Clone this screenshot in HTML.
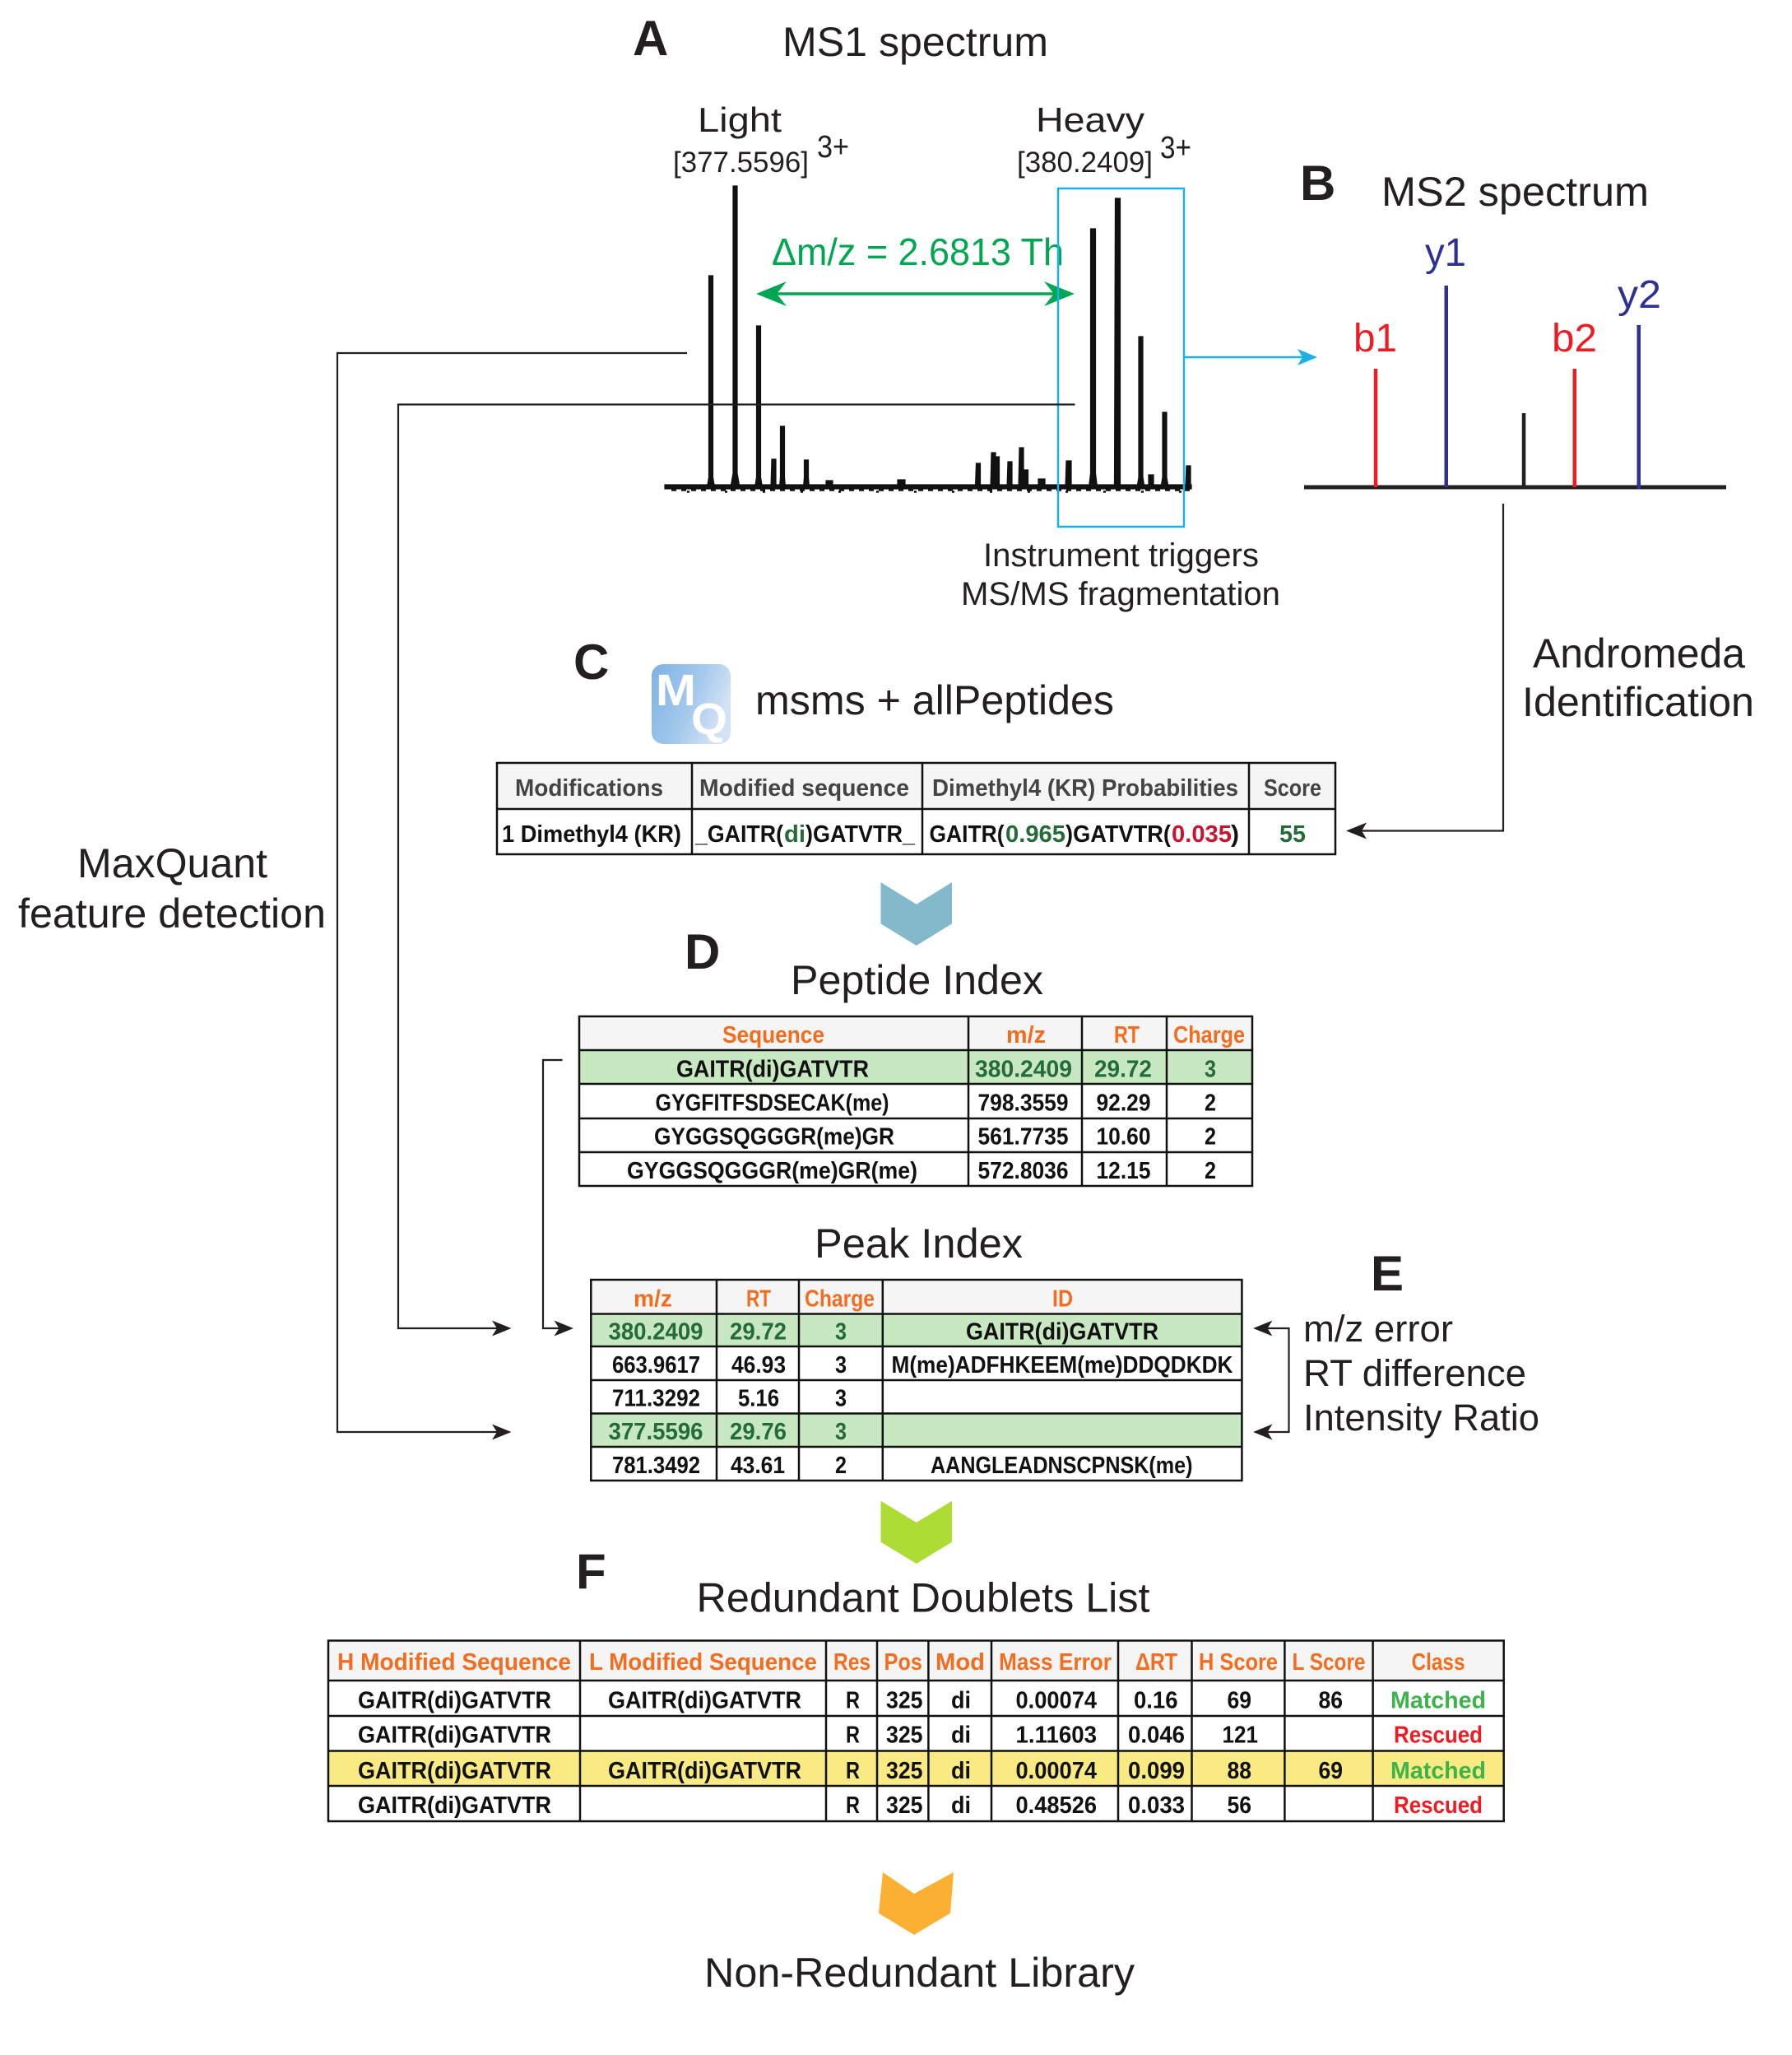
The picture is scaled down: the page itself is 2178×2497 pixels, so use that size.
<!DOCTYPE html>
<html><head><meta charset="utf-8"><style>
html,body{margin:0;padding:0;background:#fff}
svg{display:block}
text{font-family:"Liberation Sans",sans-serif;white-space:pre}
.a{font-size:50px;fill:#231f20}
.s{font-size:40px;fill:#231f20}
.n{font-size:35px;fill:#231f20}
.l{font-size:60px;font-weight:bold;fill:#231f20}
.t{font-size:29px;font-weight:bold;fill:#111}
.h{font-size:29px;font-weight:bold;fill:#444}
.o{font-size:29px;font-weight:bold;fill:#f26d1f}
.g{font-size:29px;font-weight:bold;fill:#256b3a}
.m{font-size:29px;font-weight:bold;fill:#3cb44a}
.r{font-size:29px;font-weight:bold;fill:#ed1c24}
.d{font-size:29px;font-weight:bold;fill:#c8142e}
</style></head><body>
<svg xmlns="http://www.w3.org/2000/svg" width="2178" height="2497" viewBox="0 0 2178 2497">
<defs><linearGradient id="mq" x1="0" y1="0" x2="1" y2="0.4"><stop offset="0" stop-color="#7db2e4"/><stop offset="0.6" stop-color="#a5c9ec"/><stop offset="1" stop-color="#d3e3f4"/></linearGradient></defs>
<rect width="2178" height="2497" fill="#fff"/>

<!-- Panel A -->
<text class="l" x="769" y="67">A</text>
<text class="a" x="951" y="68" textLength="323" lengthAdjust="spacingAndGlyphs">MS1 spectrum</text>
<text class="a" style="font-size:42px" x="848" y="160" textLength="102" lengthAdjust="spacingAndGlyphs">Light</text>
<text class="a" style="font-size:42px" x="1259" y="160" textLength="132" lengthAdjust="spacingAndGlyphs">Heavy</text>
<text class="n" x="818" y="209" textLength="165" lengthAdjust="spacingAndGlyphs">[377.5596]</text>
<text class="n" style="font-size:38px" x="993" y="191" textLength="39" lengthAdjust="spacingAndGlyphs">3+</text>
<text class="n" x="1236" y="209" textLength="165" lengthAdjust="spacingAndGlyphs">[380.2409]</text>
<text class="n" style="font-size:38px" x="1410" y="192" textLength="38" lengthAdjust="spacingAndGlyphs">3+</text>
<text class="a" style="font-size:46px;fill:#00a651" x="938" y="322" textLength="355" lengthAdjust="spacingAndGlyphs">Δm/z = 2.6813 Th</text>

<!-- spectrum A -->
<g fill="#111" stroke="#111" stroke-width="1.200">
<rect x="808" y="589" width="640" height="5"/>
<path d="M861.5 335h5V580l2 12h-9l2-12z"/>
<path d="M891 226h5V575l3 17h-11l3-17z"/>
<path d="M919.5 396h5V580l2 12h-9l2-12z"/>
<path d="M938 558h5V592h-6z"/>
<path d="M948.500 518h5V580l1 12h-7l1-12z"/>
<path d="M977.500 559h5V580l1 12h-7l1-12z"/>
<path d="M1004 584h8v8h-8z"/>
<path d="M1091 583h9v9h-9z"/>
<path d="M1186.500 563h5V592h-6z"/>
<path d="M1205 550h5V592h-6z"/>
<path d="M1209.500 555h5V592h-6z"/>
<path d="M1225 561h5V592h-6z"/>
<path d="M1239 544h5V592h-6z"/>
<path d="M1244.500 571h5V592h-6z"/>
<path d="M1262 582h8v10h-8z"/>
<path d="M1296 560h6V592h-7z"/>
<path d="M1325.500 278h6V575l2 17h-10l2-17z"/>
<path d="M1355.500 241h6V592h-7z"/>
<path d="M1384 409h5V580l2 12h-9l2-12z"/>
<path d="M1396 577h6v15h-6z"/>
<path d="M1413 501h5V580l2 12h-9l2-12z"/>
<path d="M1442 566h5v26h-6z"/>
</g>
<line x1="816" y1="595.500" x2="1448" y2="595.500" stroke="#111" stroke-width="2.500" stroke-dasharray="6 6"/>
<line x1="835" y1="597.500" x2="1448" y2="597.500" stroke="#111" stroke-width="2.500" stroke-dasharray="3 43"/>

<!-- green arrow -->
<line x1="940" y1="357" x2="1285" y2="357" stroke="#00a651" stroke-width="3.500"/>
<path d="M919 357L956 342 944 357 956 372zM1306 357L1269 342 1281 357 1269 372z" fill="#00a651"/>
<!-- blue box -->
<rect x="1286" y="229" width="153" height="411" fill="none" stroke="#1cb0ea" stroke-width="2.500"/>
<line x1="1439" y1="434" x2="1590" y2="434" stroke="#1cb0ea" stroke-width="2.500"/>
<path d="M1601 434L1577 424 1583 434 1577 444z" fill="#1cb0ea"/>
<text class="s" x="1195" y="688" textLength="335" lengthAdjust="spacingAndGlyphs">Instrument triggers</text>
<text class="s" x="1168" y="735" textLength="388" lengthAdjust="spacingAndGlyphs">MS/MS fragmentation</text>

<!-- Panel B -->
<text class="l" x="1580" y="243">B</text>
<text class="a" x="1679" y="250" textLength="325" lengthAdjust="spacingAndGlyphs">MS2 spectrum</text>
<line x1="1585" y1="592" x2="2098" y2="592" stroke="#231f20" stroke-width="5"/>
<rect x="1669.800" y="448" width="4.500" height="144" fill="#ed1c24"/>
<rect x="1755.500" y="347" width="4.500" height="245" fill="#2e3192"/>
<rect x="1849.800" y="502" width="4.500" height="90" fill="#231f20"/>
<rect x="1911.500" y="448" width="4.500" height="144" fill="#ed1c24"/>
<rect x="1989.500" y="395" width="4.500" height="199" fill="#2e3192"/>
<text class="a" style="font-size:48px;fill:#ed1c24" x="1645" y="427" textLength="53" lengthAdjust="spacingAndGlyphs">b1</text>
<text class="a" style="font-size:48px;fill:#ed1c24" x="1886" y="427" textLength="55" lengthAdjust="spacingAndGlyphs">b2</text>
<text class="a" style="font-size:48px;fill:#2e3192" x="1732" y="323" textLength="50" lengthAdjust="spacingAndGlyphs">y1</text>
<text class="a" style="font-size:48px;fill:#2e3192" x="1966" y="374" textLength="53" lengthAdjust="spacingAndGlyphs">y2</text>

<!-- connectors -->
<g fill="none" stroke="#231f20" stroke-width="2.200">
<path d="M835 429H410V1740H610"/>
<path d="M1306.500 491.500H484V1614H610"/>
<path d="M683.500 1288H660V1614H685"/>
<path d="M1827 612V1009.500H1650"/>
<path d="M1535 1614H1566.500V1740H1535"/>
</g>
<g fill="#231f20">
<path d="M621.500 1740L598 1730.500 604 1740 598 1749.500z"/>
<path d="M621.500 1614L598 1604.500 604 1614 598 1623.500z"/>
<path d="M697 1614L673.500 1604.500 679.500 1614 673.500 1623.500z"/>
<path d="M1636 1009.500L1661 999.500 1655 1009.500 1661 1019.500z"/>
<path d="M1523 1614L1546.500 1604.500 1540.500 1614 1546.500 1623.500z"/>
<path d="M1523 1740L1546.500 1730.500 1540.500 1740 1546.500 1749.500z"/>
</g>

<text class="a" x="94" y="1066" textLength="231" lengthAdjust="spacingAndGlyphs">MaxQuant</text>
<text class="a" x="22" y="1127" textLength="374" lengthAdjust="spacingAndGlyphs">feature detection</text>
<text class="a" x="1863" y="811" textLength="258" lengthAdjust="spacingAndGlyphs">Andromeda</text>
<text class="a" x="1850" y="870" textLength="282" lengthAdjust="spacingAndGlyphs">Identification</text>

<!-- Panel C -->
<text class="l" x="697" y="825">C</text>
<rect x="792" y="807" width="96" height="97" rx="14" fill="url(#mq)"/>
<text x="797" y="857" style="font-size:54px;font-weight:bold;fill:#fff" textLength="49" lengthAdjust="spacingAndGlyphs">M</text>
<text x="840" y="892" style="font-size:54px;font-weight:bold;fill:#fff" textLength="44" lengthAdjust="spacingAndGlyphs">Q</text>
<text class="a" x="918" y="868" textLength="436" lengthAdjust="spacingAndGlyphs">msms + allPeptides</text>

<rect x="604" y="927" width="1019" height="56" fill="#f5f5f5"/>
<path d="M603 927H1624M603 983H1624M603 1038H1624M604 926V1039M841 926V1039M1121 926V1039M1518 926V1039M1623 926V1039" fill="none" stroke="#111" stroke-width="2.500"/>
<text class="h" x="626" y="967" textLength="180" lengthAdjust="spacingAndGlyphs">Modifications</text>
<text class="h" x="850" y="967" textLength="255" lengthAdjust="spacingAndGlyphs">Modified sequence</text>
<text class="h" x="1133" y="967" textLength="372" lengthAdjust="spacingAndGlyphs">Dimethyl4 (KR) Probabilities</text>
<text class="h" x="1536" y="967" textLength="70" lengthAdjust="spacingAndGlyphs">Score</text>
<text class="t" x="610" y="1023" textLength="218" lengthAdjust="spacingAndGlyphs">1 Dimethyl4 (KR)</text>
<text class="t" x="845" y="1023" textLength="107" lengthAdjust="spacingAndGlyphs">_GAITR(</text>
<text class="g" x="953" y="1023" textLength="26" lengthAdjust="spacingAndGlyphs">di</text>
<text class="t" x="979" y="1023" textLength="133" lengthAdjust="spacingAndGlyphs">)GATVTR_</text>
<text class="t" x="1129.500" y="1023" textLength="91" lengthAdjust="spacingAndGlyphs">GAITR(</text>
<text class="g" x="1222" y="1023" textLength="73" lengthAdjust="spacingAndGlyphs">0.965</text>
<text class="t" x="1295" y="1023" textLength="128" lengthAdjust="spacingAndGlyphs">)GATVTR(</text>
<text class="d" x="1424" y="1023" textLength="73" lengthAdjust="spacingAndGlyphs">0.035</text>
<text class="t" x="1496" y="1023" textLength="10" lengthAdjust="spacingAndGlyphs">)</text>
<text class="g" x="1555" y="1023" textLength="32" lengthAdjust="spacingAndGlyphs">55</text>

<path d="M1070.500 1072L1113.800 1098.800 1157 1072V1122.400L1113.800 1149 1070.500 1122.400z" fill="#84b8cb"/>

<!-- Panel D -->
<text class="l" x="832" y="1177">D</text>
<text class="a" x="961" y="1208" textLength="307" lengthAdjust="spacingAndGlyphs">Peptide Index</text>
<rect x="704" y="1235" width="818" height="41" fill="#f5f5f5"/>
<rect x="704" y="1276" width="818" height="41" fill="#c8e8c2"/>
<path d="M703 1235H1523M703 1276H1523M703 1317H1523M703 1359H1523M703 1400H1523M703 1441H1523M704 1234V1442M1177 1234V1442M1315 1234V1442M1418 1234V1442M1522 1234V1442" fill="none" stroke="#111" stroke-width="2.500"/>
<text class="o" x="878" y="1267" textLength="124" lengthAdjust="spacingAndGlyphs">Sequence</text>
<text class="o" x="1223" y="1267" textLength="48" lengthAdjust="spacingAndGlyphs">m/z</text>
<text class="o" x="1354" y="1267" textLength="31" lengthAdjust="spacingAndGlyphs">RT</text>
<text class="o" x="1426" y="1267" textLength="87" lengthAdjust="spacingAndGlyphs">Charge</text>
<text class="t" x="822" y="1308.500" textLength="234" lengthAdjust="spacingAndGlyphs">GAITR(di)GATVTR</text>
<text class="g" x="1185" y="1308.500" textLength="118" lengthAdjust="spacingAndGlyphs">380.2409</text>
<text class="g" x="1330" y="1308.500" textLength="70" lengthAdjust="spacingAndGlyphs">29.72</text>
<text class="g" x="1464" y="1308.500" textLength="14" lengthAdjust="spacingAndGlyphs">3</text>
<text class="t" x="796.500" y="1349.500" textLength="284" lengthAdjust="spacingAndGlyphs">GYGFITFSDSECAK(me)</text>
<text class="t" x="1188.500" y="1349.500" textLength="110" lengthAdjust="spacingAndGlyphs">798.3559</text>
<text class="t" x="1332.500" y="1349.500" textLength="66" lengthAdjust="spacingAndGlyphs">92.29</text>
<text class="t" x="1464" y="1349.500" textLength="14" lengthAdjust="spacingAndGlyphs">2</text>
<text class="t" x="795" y="1390.500" textLength="292" lengthAdjust="spacingAndGlyphs">GYGGSQGGGR(me)GR</text>
<text class="t" x="1188.500" y="1390.500" textLength="110" lengthAdjust="spacingAndGlyphs">561.7735</text>
<text class="t" x="1332.500" y="1390.500" textLength="66" lengthAdjust="spacingAndGlyphs">10.60</text>
<text class="t" x="1464" y="1390.500" textLength="14" lengthAdjust="spacingAndGlyphs">2</text>
<text class="t" x="762" y="1432" textLength="353" lengthAdjust="spacingAndGlyphs">GYGGSQGGGR(me)GR(me)</text>
<text class="t" x="1188.500" y="1432" textLength="110" lengthAdjust="spacingAndGlyphs">572.8036</text>
<text class="t" x="1332.500" y="1432" textLength="66" lengthAdjust="spacingAndGlyphs">12.15</text>
<text class="t" x="1464" y="1432" textLength="14" lengthAdjust="spacingAndGlyphs">2</text>

<!-- Peak Index -->
<text class="a" x="990" y="1528" textLength="253" lengthAdjust="spacingAndGlyphs">Peak Index</text>
<rect x="718" y="1555" width="791" height="41.500" fill="#f5f5f5"/>
<rect x="718" y="1596.500" width="791" height="39.500" fill="#c8e8c2"/>
<rect x="718" y="1717.500" width="791" height="40.500" fill="#c8e8c2"/>
<path d="M717 1555H1510.500M717 1596.500H1510.500M717 1636H1510.500M717 1677H1510.500M717 1717.500H1510.500M717 1758H1510.500M717 1799H1510.500M718.300 1554V1800M871 1554V1800M971 1554V1800M1072.800 1554V1800M1509.400 1554V1800" fill="none" stroke="#111" stroke-width="2.500"/>
<text class="o" x="770" y="1587.500" textLength="47" lengthAdjust="spacingAndGlyphs">m/z</text>
<text class="o" x="907" y="1587.500" textLength="30" lengthAdjust="spacingAndGlyphs">RT</text>
<text class="o" x="978" y="1587.500" textLength="85" lengthAdjust="spacingAndGlyphs">Charge</text>
<text class="o" x="1279" y="1587.500" textLength="25" lengthAdjust="spacingAndGlyphs">ID</text>
<text class="g" x="739.500" y="1627.500" textLength="115" lengthAdjust="spacingAndGlyphs">380.2409</text>
<text class="g" x="887" y="1627.500" textLength="69" lengthAdjust="spacingAndGlyphs">29.72</text>
<text class="g" x="1015" y="1627.500" textLength="14" lengthAdjust="spacingAndGlyphs">3</text>
<text class="t" x="1174" y="1627.500" textLength="234" lengthAdjust="spacingAndGlyphs">GAITR(di)GATVTR</text>
<text class="t" x="744" y="1668" textLength="107" lengthAdjust="spacingAndGlyphs">663.9617</text>
<text class="t" x="889" y="1668" textLength="66" lengthAdjust="spacingAndGlyphs">46.93</text>
<text class="t" x="1015" y="1668" textLength="14" lengthAdjust="spacingAndGlyphs">3</text>
<text class="t" x="1083.500" y="1668" textLength="415" lengthAdjust="spacingAndGlyphs">M(me)ADFHKEEM(me)DDQDKDK</text>
<text class="t" x="744" y="1708.500" textLength="107" lengthAdjust="spacingAndGlyphs">711.3292</text>
<text class="t" x="897" y="1708.500" textLength="50" lengthAdjust="spacingAndGlyphs">5.16</text>
<text class="t" x="1015" y="1708.500" textLength="14" lengthAdjust="spacingAndGlyphs">3</text>
<text class="g" x="739.500" y="1749" textLength="115" lengthAdjust="spacingAndGlyphs">377.5596</text>
<text class="g" x="887" y="1749" textLength="69" lengthAdjust="spacingAndGlyphs">29.76</text>
<text class="g" x="1015" y="1749" textLength="14" lengthAdjust="spacingAndGlyphs">3</text>
<text class="t" x="744" y="1790" textLength="107" lengthAdjust="spacingAndGlyphs">781.3492</text>
<text class="t" x="888" y="1790" textLength="66" lengthAdjust="spacingAndGlyphs">43.61</text>
<text class="t" x="1015" y="1790" textLength="14" lengthAdjust="spacingAndGlyphs">2</text>
<text class="t" x="1131" y="1790" textLength="318.500" lengthAdjust="spacingAndGlyphs">AANGLEADNSCPNSK(me)</text>

<!-- Panel E -->
<text class="l" x="1666" y="1568">E</text>
<text class="a" style="font-size:45px" x="1584" y="1630" textLength="182" lengthAdjust="spacingAndGlyphs">m/z error</text>
<text class="a" style="font-size:45px" x="1584" y="1684" textLength="271" lengthAdjust="spacingAndGlyphs">RT difference</text>
<text class="a" style="font-size:45px" x="1584" y="1738" textLength="287" lengthAdjust="spacingAndGlyphs">Intensity Ratio</text>

<path d="M1070.500 1823.700L1113.800 1850 1157 1823.700V1873.800L1113.800 1900 1070.500 1873.800z" fill="#addc35"/>

<!-- Panel F -->
<text class="l" x="700" y="1930">F</text>
<text class="a" x="846.500" y="1958.500" textLength="551" lengthAdjust="spacingAndGlyphs">Redundant Doublets List</text>
<rect x="399" y="1993.500" width="1429" height="48.500" fill="#f5f5f5"/>
<rect x="399" y="2127.500" width="1429" height="42.500" fill="#f9ea84"/>
<path d="M398 1993.500H1829M398 2042H1829M398 2085H1829M398 2127.500H1829M398 2170H1829M398 2213H1829M399 1992.500V2214M705 1992.500V2214M1004 1992.500V2214M1066 1992.500V2214M1128.400 1992.500V2214M1205 1992.500V2214M1359 1992.500V2214M1448.500 1992.500V2214M1561.400 1992.500V2214M1668.600 1992.500V2214M1827.700 1992.500V2214" fill="none" stroke="#111" stroke-width="2.500"/>
<text class="o" x="410" y="2029" textLength="284" lengthAdjust="spacingAndGlyphs">H Modified Sequence</text>
<text class="o" x="716" y="2029" textLength="277" lengthAdjust="spacingAndGlyphs">L Modified Sequence</text>
<text class="o" x="1013" y="2029" textLength="45" lengthAdjust="spacingAndGlyphs">Res</text>
<text class="o" x="1074.500" y="2029" textLength="46.500" lengthAdjust="spacingAndGlyphs">Pos</text>
<text class="o" x="1137" y="2029" textLength="60" lengthAdjust="spacingAndGlyphs">Mod</text>
<text class="o" x="1214" y="2029" textLength="137" lengthAdjust="spacingAndGlyphs">Mass Error</text>
<text class="o" x="1380" y="2029" textLength="51" lengthAdjust="spacingAndGlyphs">ΔRT</text>
<text class="o" x="1457" y="2029" textLength="96" lengthAdjust="spacingAndGlyphs">H Score</text>
<text class="o" x="1570.500" y="2029" textLength="89" lengthAdjust="spacingAndGlyphs">L Score</text>
<text class="o" x="1715.500" y="2029" textLength="65" lengthAdjust="spacingAndGlyphs">Class</text>

<text class="t" x="435" y="2075.500" textLength="235" lengthAdjust="spacingAndGlyphs">GAITR(di)GATVTR</text>
<text class="t" x="739" y="2075.500" textLength="235" lengthAdjust="spacingAndGlyphs">GAITR(di)GATVTR</text>
<text class="t" x="1028" y="2075.500" textLength="17" lengthAdjust="spacingAndGlyphs">R</text>
<text class="t" x="1077" y="2075.500" textLength="44.500" lengthAdjust="spacingAndGlyphs">325</text>
<text class="t" x="1156" y="2075.500" textLength="24" lengthAdjust="spacingAndGlyphs">di</text>
<text class="t" x="1234.500" y="2075.500" textLength="98.500" lengthAdjust="spacingAndGlyphs">0.00074</text>
<text class="t" x="1378" y="2075.500" textLength="53.500" lengthAdjust="spacingAndGlyphs">0.16</text>
<text class="t" x="1491.500" y="2075.500" textLength="29.500" lengthAdjust="spacingAndGlyphs">69</text>
<text class="t" x="1602.500" y="2075.500" textLength="29.500" lengthAdjust="spacingAndGlyphs">86</text>
<text class="m" x="1690" y="2075.500" textLength="116" lengthAdjust="spacingAndGlyphs">Matched</text>

<text class="t" x="435" y="2117.500" textLength="235" lengthAdjust="spacingAndGlyphs">GAITR(di)GATVTR</text>
<text class="t" x="1028" y="2117.500" textLength="17" lengthAdjust="spacingAndGlyphs">R</text>
<text class="t" x="1077" y="2117.500" textLength="44.500" lengthAdjust="spacingAndGlyphs">325</text>
<text class="t" x="1156" y="2117.500" textLength="24" lengthAdjust="spacingAndGlyphs">di</text>
<text class="t" x="1234.500" y="2117.500" textLength="98.500" lengthAdjust="spacingAndGlyphs">1.11603</text>
<text class="t" x="1371" y="2117.500" textLength="69" lengthAdjust="spacingAndGlyphs">0.046</text>
<text class="t" x="1485.500" y="2117.500" textLength="43.500" lengthAdjust="spacingAndGlyphs">121</text>
<text class="r" x="1694" y="2117.500" textLength="108" lengthAdjust="spacingAndGlyphs">Rescued</text>

<text class="t" x="435" y="2161" textLength="235" lengthAdjust="spacingAndGlyphs">GAITR(di)GATVTR</text>
<text class="t" x="739" y="2161" textLength="235" lengthAdjust="spacingAndGlyphs">GAITR(di)GATVTR</text>
<text class="t" x="1028" y="2161" textLength="17" lengthAdjust="spacingAndGlyphs">R</text>
<text class="t" x="1077" y="2161" textLength="44.500" lengthAdjust="spacingAndGlyphs">325</text>
<text class="t" x="1156" y="2161" textLength="24" lengthAdjust="spacingAndGlyphs">di</text>
<text class="t" x="1234.500" y="2161" textLength="98.500" lengthAdjust="spacingAndGlyphs">0.00074</text>
<text class="t" x="1371" y="2161" textLength="69" lengthAdjust="spacingAndGlyphs">0.099</text>
<text class="t" x="1491.500" y="2161" textLength="29.500" lengthAdjust="spacingAndGlyphs">88</text>
<text class="t" x="1602.500" y="2161" textLength="29.500" lengthAdjust="spacingAndGlyphs">69</text>
<text class="m" x="1690" y="2161" textLength="116" lengthAdjust="spacingAndGlyphs">Matched</text>

<text class="t" x="435" y="2203" textLength="235" lengthAdjust="spacingAndGlyphs">GAITR(di)GATVTR</text>
<text class="t" x="1028" y="2203" textLength="17" lengthAdjust="spacingAndGlyphs">R</text>
<text class="t" x="1077" y="2203" textLength="44.500" lengthAdjust="spacingAndGlyphs">325</text>
<text class="t" x="1156" y="2203" textLength="24" lengthAdjust="spacingAndGlyphs">di</text>
<text class="t" x="1234.500" y="2203" textLength="98.500" lengthAdjust="spacingAndGlyphs">0.48526</text>
<text class="t" x="1371" y="2203" textLength="69" lengthAdjust="spacingAndGlyphs">0.033</text>
<text class="t" x="1491.500" y="2203" textLength="29.500" lengthAdjust="spacingAndGlyphs">56</text>
<text class="r" x="1694" y="2203" textLength="108" lengthAdjust="spacingAndGlyphs">Rescued</text>

<path d="M1073 2275L1111 2301 1159 2275 1155 2324.700 1111 2351 1068 2324.700z" fill="#fbb034"/>
<text class="a" x="856" y="2414" textLength="523" lengthAdjust="spacingAndGlyphs">Non-Redundant Library</text>
</svg>
</body></html>
